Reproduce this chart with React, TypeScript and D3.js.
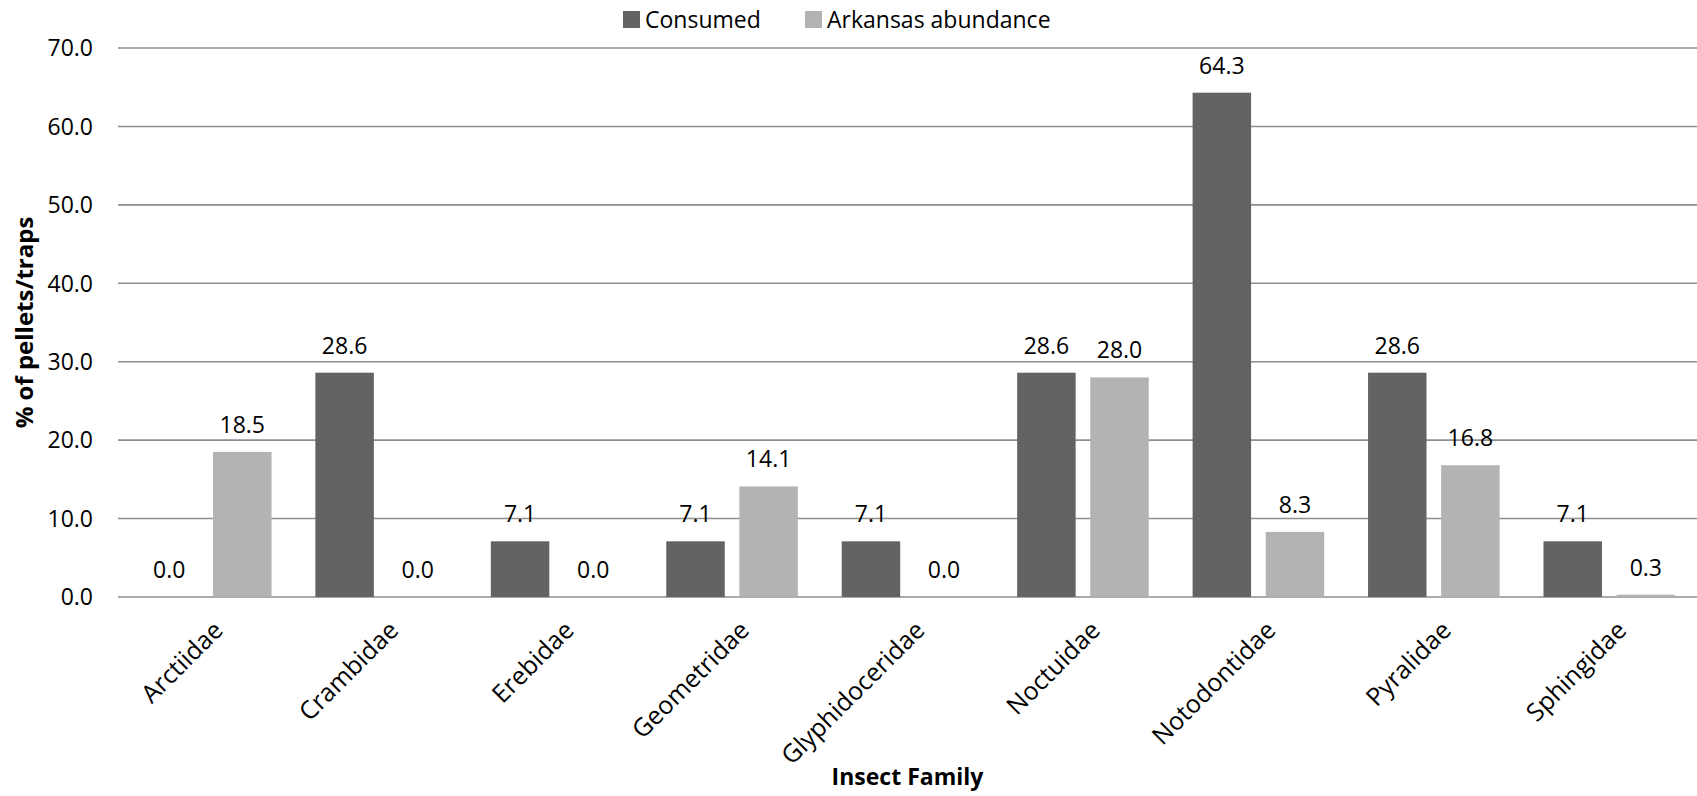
import React, { useEffect, useRef } from 'react';
import * as d3 from 'd3';

// chart data
const families = ['Arctiidae', 'Crambidae', 'Erebidae', 'Geometridae', 'Glyphidoceridae', 'Noctuidae', 'Notodontidae', 'Pyralidae', 'Sphingidae'];
const consumed = [0.0, 28.6, 7.1, 7.1, 7.1, 28.6, 64.3, 28.6, 7.1];
const abundance = [18.5, 0.0, 0.0, 14.1, 0.0, 28.0, 8.3, 16.8, 0.3];
const seriesNames = ['Consumed', 'Arkansas abundance'];
const seriesColors = ['#636363', '#b3b3b3'];
const yTicks = [0, 10, 20, 30, 40, 50, 60, 70];

const W = 1697;
const H = 796;
const FONT = '"Open Sans", "Noto Sans", sans-serif';

const App: React.FC = () => {
  const svgRef = useRef<SVGSVGElement>(null);

  useEffect(() => {
    if (!svgRef.current) return;
    const svg = d3.select(svgRef.current);
    svg.selectAll('*').remove();

    const left = 118;
    const right = W;
    const top = 48;
    const bottom = 597;

    const x = d3.scaleBand<string>()
      .domain(families)
      .range([left, right])
      .paddingInner(0.25)
      .paddingOuter(0.125);

    const y = d3.scaleLinear().domain([0, 70]).range([bottom, top]);

    // gridlines
    svg.append('g')
      .selectAll('line')
      .data(yTicks)
      .enter().append('line')
      .attr('x1', left)
      .attr('x2', right)
      .attr('y1', d => y(d))
      .attr('y2', d => y(d))
      .attr('stroke', '#8e8e8e')
      .attr('stroke-width', 1.6);

    // y tick labels
    svg.append('g')
      .selectAll('text')
      .data(yTicks)
      .enter().append('text')
      .attr('x', 93)
      .attr('y', d => y(d))
      .attr('dy', '0.36em')
      .attr('text-anchor', 'end')
      .attr('font-family', FONT)
      .attr('font-size', 23)
      .attr('fill', '#000')
      .text(d => d.toFixed(1));

    const inner = d3.scaleBand<number>()
      .domain([0, 1])
      .range([0, x.bandwidth()])
      .paddingInner(0.2);

    const rows = families.map((f, i) => ({ f, vals: [consumed[i], abundance[i]] }));

    const groups = svg.append('g')
      .selectAll('g')
      .data(rows)
      .enter().append('g')
      .attr('transform', d => `translate(${x(d.f)},0)`);

    groups.selectAll('rect')
      .data(d => d.vals.map((v, s) => ({ v, s })))
      .enter().append('rect')
      .attr('x', d => inner(d.s)!)
      .attr('width', inner.bandwidth())
      .attr('y', d => y(d.v))
      .attr('height', d => bottom - y(d.v))
      .attr('fill', d => seriesColors[d.s]);

    groups.selectAll('text')
      .data(d => d.vals.map((v, s) => ({ v, s })))
      .enter().append('text')
      .attr('x', d => inner(d.s)! + inner.bandwidth() / 2)
      .attr('y', d => y(d.v) - 19)
      .attr('text-anchor', 'middle')
      .attr('font-family', FONT)
      .attr('font-size', 23)
      .attr('fill', '#000')
      .text(d => d.v.toFixed(1));

    // category labels
    svg.append('g')
      .selectAll('text')
      .data(families)
      .enter().append('text')
      .attr('transform', d => `translate(${x(d)! + x.bandwidth() / 2 + 6},619) rotate(-45)`)
      .attr('dy', '0.72em')
      .attr('text-anchor', 'end')
      .attr('font-family', FONT)
      .attr('font-size', 25)
      .attr('fill', '#000')
      .text(d => d);

    // axis titles
    svg.append('text')
      .attr('x', (left + right) / 2)
      .attr('y', 785)
      .attr('text-anchor', 'middle')
      .attr('font-family', FONT)
      .attr('font-weight', 'bold')
      .attr('font-size', 23)
      .text('Insect Family');

    svg.append('text')
      .attr('transform', `translate(33,${(top + bottom) / 2}) rotate(-90)`)
      .attr('text-anchor', 'middle')
      .attr('font-family', FONT)
      .attr('font-weight', 'bold')
      .attr('font-size', 24)
      .text('% of pellets/traps');

    // legend
    const legendX = [623, 805];
    const legend = svg.append('g')
      .selectAll('g')
      .data(seriesNames)
      .enter().append('g')
      .attr('transform', (d, i) => `translate(${legendX[i]},0)`);
    legend.append('rect')
      .attr('x', 0)
      .attr('y', 11)
      .attr('width', 17)
      .attr('height', 17)
      .attr('fill', (d, i) => seriesColors[i]);
    legend.append('text')
      .attr('x', 22)
      .attr('y', 28)
      .attr('font-family', FONT)
      .attr('font-size', 23)
      .attr('fill', '#000')
      .text(d => d);
  }, []);

  return (
    <div style={{ position: 'absolute', left: 0, top: 0 }}>
      <svg ref={svgRef} width={W} height={H} style={{ display: 'block', background: '#fff' }} />
    </div>
  );
};

export default App;
